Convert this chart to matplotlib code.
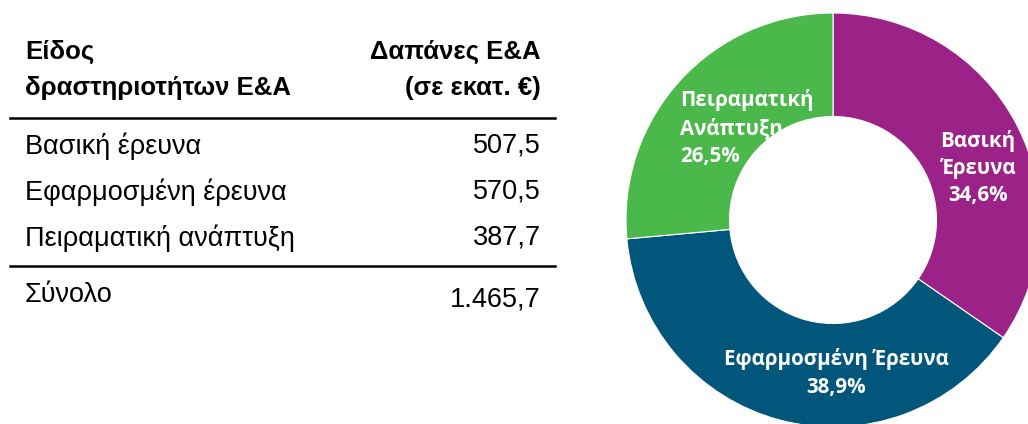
import matplotlib
matplotlib.use("Agg")
import matplotlib.pyplot as plt

categories = ["Βασική έρευνα", "Εφαρμοσμένη έρευνα", "Πειραματική ανάπτυξη"]
values = [507.5, 570.5, 387.7]
donut_labels = ["Βασική\nΈρευνα", "Εφαρμοσμένη Έρευνα", "Πειραματική\nΑνάπτυξη"]
colors = ["#9B2387", "#02567C", "#4AB84A"]
header_left = "Είδος\nδραστηριοτήτων Ε&Α"
header_right = "Δαπάνες Ε&Α\n(σε εκατ. €)"
total_label = "Σύνολο"


def gr(v):
    # greek number format: dot thousands, comma decimals
    s = "{:,.1f}".format(v)
    return s.replace(",", "X").replace(".", ",").replace("X", ".")


W, H = 1028, 424
fig = plt.figure(figsize=(W / 100, H / 100), dpi=100)
ax = fig.add_axes([0, 0, 1, 1])

# donut
cx, cy, r = 833, H - 220, 207
wedges, _ = ax.pie(values, colors=colors, startangle=90, counterclock=False,
                   radius=r, center=(cx, cy),
                   wedgeprops=dict(width=r * 0.5, edgecolor="white", linewidth=0.8))
ax.set_xlim(0, W)
ax.set_ylim(0, H)
ax.set_aspect("equal")
ax.axis("off")

total = sum(values)
pct = [gr(v / total * 100) + "%" for v in values]
lab_font = dict(family=["Open Sans", "DejaVu Sans"], fontweight="bold",
                fontsize=14.8, color="white", linespacing=1.38)
ax.text(978, H - 168, donut_labels[0] + "\n" + pct[0], ha="center", va="center", **lab_font)
ax.text(836, H - 373, donut_labels[1] + "\n" + pct[1], ha="center", va="center", **lab_font)
ax.text(680, H - 128, donut_labels[2] + "\n" + pct[2], ha="left", va="center", **lab_font)

# table
hfont = dict(family=["Liberation Sans", "DejaVu Sans"], fontweight="bold",
             fontsize=18.5, color="black", linespacing=1.6)
bfont = dict(family=["Liberation Sans", "DejaVu Sans"], fontsize=19.5, color="black")
ax.text(25, H - 70, header_left, ha="left", va="center", **hfont)
ax.text(541, H - 70, header_right, ha="right", va="center", **hfont)
ax.plot([10, 555], [H - 118, H - 118], color="black", lw=1.8)
rows_y = [146, 192, 238]
for name, v, y in zip(categories, values, rows_y):
    ax.text(25, H - y, name, ha="left", va="center", **bfont)
    ax.text(541, H - y, gr(v), ha="right", va="center", **bfont)
ax.plot([10, 555], [H - 266, H - 266], color="black", lw=1.8)
ax.text(25, H - 295, total_label, ha="left", va="center", **bfont)
ax.text(541, H - 299, gr(total), ha="right", va="center", **bfont)

plt.savefig("out.png", dpi=100)
